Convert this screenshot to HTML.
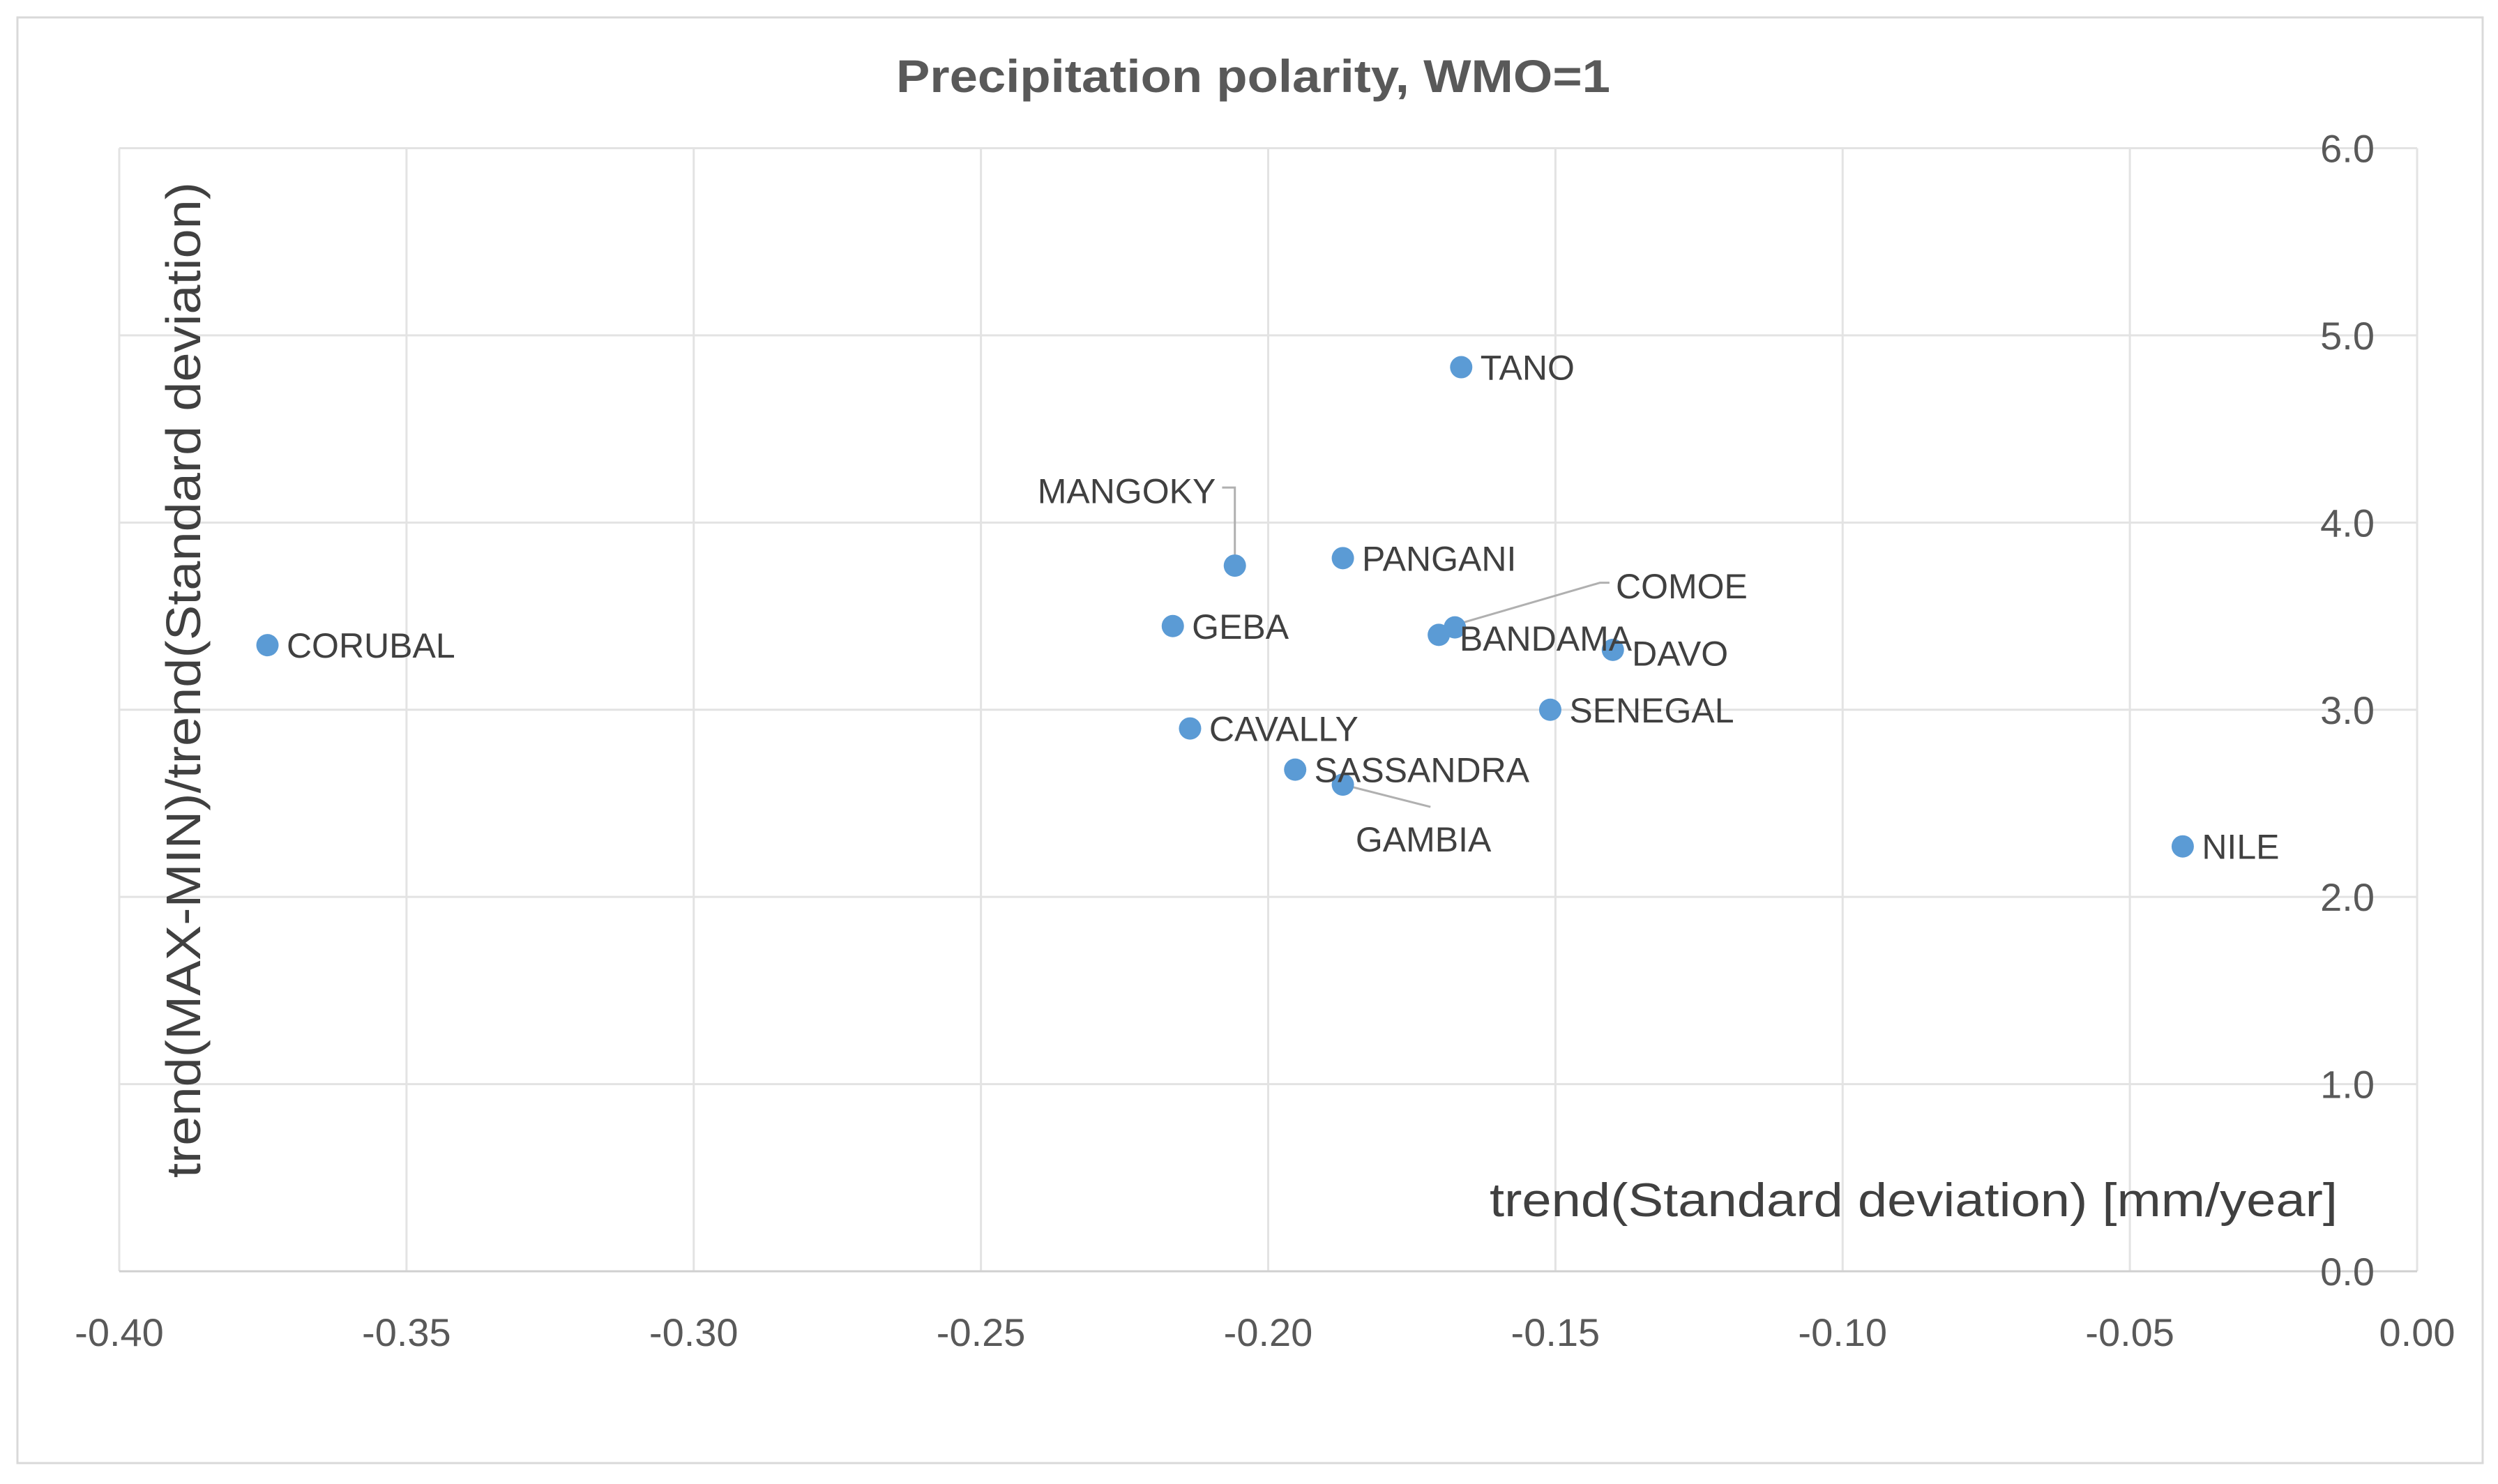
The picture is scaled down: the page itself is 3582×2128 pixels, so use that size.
<!DOCTYPE html>
<html><head><meta charset="utf-8"><style>
html,body{margin:0;padding:0;background:#fff;}
svg{display:block;font-family:"Liberation Sans",sans-serif;}
</style></head><body>
<svg id="c" width="3582" height="2128" viewBox="0 0 3582 2128" xmlns="http://www.w3.org/2000/svg">
<rect x="25" y="25" width="3535" height="2073" fill="#fff" stroke="#d9d9d9" stroke-width="3"/>
<text x="1797" y="132" text-anchor="middle" font-size="66" font-weight="bold" fill="#595959" textLength="1024" lengthAdjust="spacingAndGlyphs">Precipitation polarity, WMO=1</text>
<g id="grid"></g>
<g id="ticks"></g>
<text x="0" y="0" transform="translate(287,975) rotate(-90)" text-anchor="middle" font-size="70" fill="#404040" textLength="1428" lengthAdjust="spacingAndGlyphs">trend(MAX-MIN)/trend(Standard deviation)</text>
<text x="3352" y="1744" text-anchor="end" font-size="68" fill="#404040" textLength="1216" lengthAdjust="spacingAndGlyphs">trend(Standard deviation) [mm/year]</text>
<g id="leaders"></g>
<g id="pts"></g>
<g id="labels"></g>
</svg>
<script>
const names=["CORUBAL","GEBA","MANGOKY","PANGANI","TANO","COMOE","BANDAMA","DAVO","SENEGAL","CAVALLY","SASSANDRA","GAMBIA","NILE"];
const xVals=[-0.3742,-0.2166,-0.2058,-0.187,-0.1664,-0.1675,-0.1703,-0.140,-0.1509,-0.2136,-0.1953,-0.187,-0.0408];
const yVals=[3.345,3.447,3.77,3.81,4.83,3.44,3.40,3.32,3.00,2.90,2.68,2.60,2.27];
const xTicks=[-0.40,-0.35,-0.30,-0.25,-0.20,-0.15,-0.10,-0.05,0.00];
const yTicks=[0,1,2,3,4,5,6];
const S=2.285;
const X0=171,X1=3466,Y0=1823,Y6=212.5;
function xs(v){return X0+(v+0.4)/0.4*(X1-X0);}
function ys(v){return Y0-v/6*(Y0-Y6);}
const NS="http://www.w3.org/2000/svg";
function mk(tag,attrs,parent){const e=document.createElementNS(NS,tag);for(const k in attrs)e.setAttribute(k,attrs[k]);document.getElementById(parent).appendChild(e);return e;}
xTicks.forEach(t=>{
  const l=mk('line',{x1:xs(t),x2:xs(t),y1:Y6,y2:Y0,stroke:'#e3e3e3','stroke-width':3},'grid');
  
  
  const tx=mk('text',{x:xs(t),y:1930,'text-anchor':'middle','font-size':56,fill:'#595959'},'ticks');
  tx.textContent=t.toFixed(2);
  
  
});
yTicks.forEach(t=>{
  const l=mk('line',{x1:X0,x2:X1,y1:ys(t),y2:ys(t),stroke:t===0?'#d0d0d0':'#e3e3e3','stroke-width':3},'grid');
  
  
  const tx=mk('text',{x:3405,y:ys(t)+20,'text-anchor':'end','font-size':56,fill:'#595959'},'ticks');
  tx.textContent=t.toFixed(1);
  
  
});
const offs={MANGOKY:[-12,-47,'end'],COMOE:[101,-26,'start'],BANDAMA:[13,2,'start'],DAVO:[12,2,'start'],GAMBIA:[8,34,'start']};
names.forEach((n,i)=>{
  const px=xs(xVals[i]),py=ys(yVals[i]);
  const c=mk('circle',{cx:px,cy:py,r:16,fill:'#5b9bd5'},'pts');
  
  
  const o=offs[n]||[12,0,'start'];
  const lx=px+o[0]*S,ly=py+o[1]*S;
  const t=mk('text',{x:lx,y:ly+18,'text-anchor':o[2],'font-size':50,fill:'#404040'},'labels');
  t.textContent=n;
  
  
  let pts=null;
  if(n==='MANGOKY')pts=[[lx+4*S,ly-2*S],[px,ly-2*S],[px,py-6*S]];
  if(n==='COMOE')pts=[[lx-4*S,ly-2*S],[lx-10*S,ly-2*S],[px+5*S,py-3*S]];
  if(n==='GAMBIA')pts=[[px,py],[lx+47*S,ly-20*S]];
  if(pts){
    const p=mk('polyline',{points:pts.map(a=>a.join(',')).join(' '),fill:'none',stroke:'#b0b0b0','stroke-width':3},'leaders');
    
    
  }
});
</script>
</body></html>
